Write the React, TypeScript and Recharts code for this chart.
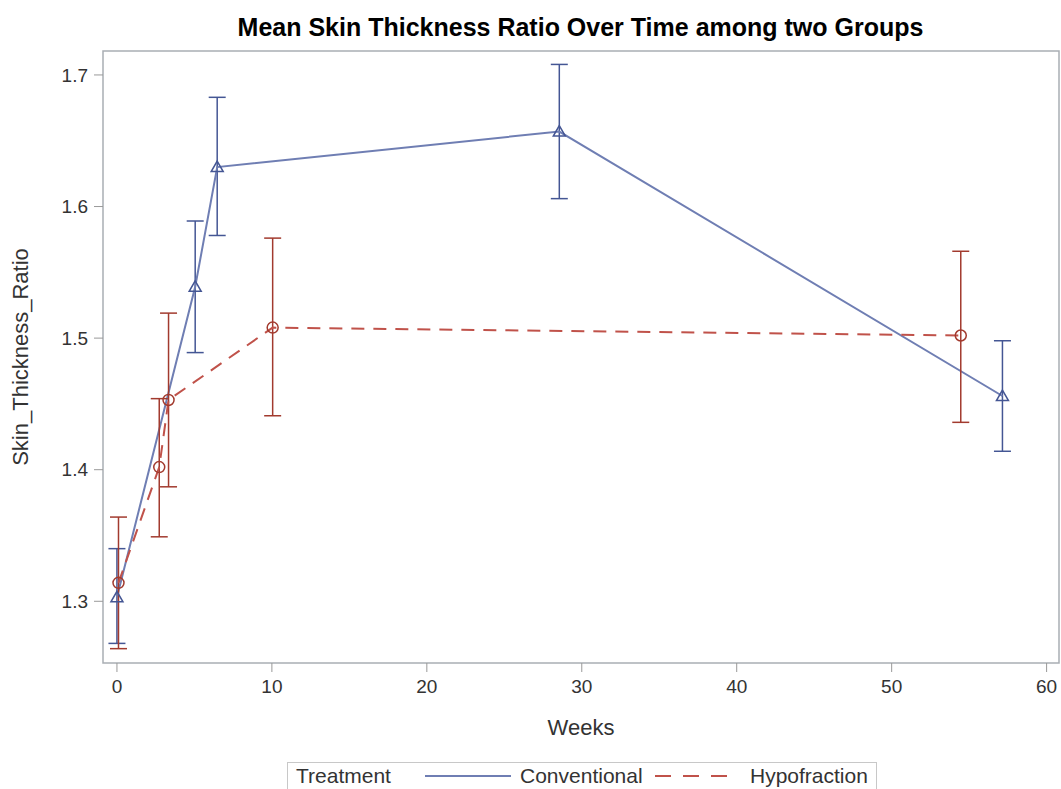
import React from 'react';
import { ComposedChart, Line, XAxis, YAxis, ErrorBar, ReferenceArea, Legend, Label } from 'recharts';

const convWeeks = [0, 5.05, 6.47, 28.55, 57.15];
const convMean = [1.303, 1.539, 1.63, 1.657, 1.456];
const convLower = [1.268, 1.489, 1.578, 1.606, 1.414];
const convUpper = [1.34, 1.589, 1.683, 1.708, 1.498];

const hypoWeeks = [0.1, 2.73, 3.33, 10.05, 54.46];
const hypoMean = [1.314, 1.402, 1.453, 1.508, 1.502];
const hypoLower = [1.264, 1.349, 1.387, 1.441, 1.436];
const hypoUpper = [1.364, 1.454, 1.519, 1.576, 1.566];

const xTicks = [0, 10, 20, 30, 40, 50, 60];
const yTicks = [1.3, 1.4, 1.5, 1.6, 1.7];

const X_DOMAIN = [-0.9, 60.8];
const Y_DOMAIN = [1.2531, 1.7182];

const BLUE = '#445694';
const BLUE_LINE = '#6F7EB3';
const RED = '#A23A2E';
const RED_LINE = '#C0524A';
const FONT = '"Liberation Sans", Arial, sans-serif';

const build = (weeks: number[], mean: number[], lower: number[], upper: number[]) =>
  weeks.map((w, i) => ({ week: w, value: mean[i], err: [mean[i] - lower[i], upper[i] - mean[i]] }));

const convData = build(convWeeks, convMean, convLower, convUpper);
const hypoData = build(hypoWeeks, hypoMean, hypoLower, hypoUpper);

const Triangle = (props: any) => {
  const { cx, cy } = props;
  if (cx == null || cy == null) return null;
  return (
    <path
      d={`M${cx},${cy - 6} L${cx + 6},${cy + 4.5} L${cx - 6},${cy + 4.5} Z`}
      fill="none"
      stroke={BLUE}
      strokeWidth={1.5}
    />
  );
};

const Circle = (props: any) => {
  const { cx, cy } = props;
  if (cx == null || cy == null) return null;
  return <circle cx={cx} cy={cy} r={5.5} fill="none" stroke={RED} strokeWidth={1.5} />;
};

const LegendBox = () => (
  <div
    style={{
      position: 'relative',
      width: 590,
      height: 30,
      border: '1px solid #c8c8c8',
      boxSizing: 'border-box',
      fontFamily: FONT,
      fontSize: 21,
      color: '#333',
      background: '#fff',
    }}
  >
    <span style={{ position: 'absolute', left: 8, top: 0, lineHeight: '25px' }}>Treatment</span>
    <svg style={{ position: 'absolute', left: 137, top: 0 }} width={90} height={26}>
      <line x1={0} y1={13} x2={86} y2={13} stroke={BLUE_LINE} strokeWidth={2} />
    </svg>
    <span style={{ position: 'absolute', left: 232, top: 0, lineHeight: '25px' }}>Conventional</span>
    <svg style={{ position: 'absolute', left: 367, top: 0 }} width={90} height={26}>
      <line x1={0} y1={13} x2={82} y2={13} stroke={RED_LINE} strokeWidth={2} strokeDasharray="16 12" />
    </svg>
    <span style={{ position: 'absolute', left: 462, top: 0, lineHeight: '25px' }}>Hypofraction</span>
  </div>
);

export default function App() {
  return (
    <div style={{ position: 'absolute', left: 0, top: 0, width: 1061, height: 789, background: '#fff', overflow: 'hidden' }}>
      <div
        style={{
          position: 'absolute',
          left: 0,
          width: 1161,
          top: 12,
          textAlign: 'center',
          fontFamily: FONT,
          fontWeight: 'bold',
          fontSize: 25,
          lineHeight: '30px',
          color: '#000',
        }}
      >
        Mean Skin Thickness Ratio Over Time among two Groups
      </div>
      <ComposedChart width={1061} height={789} margin={{ top: 51, right: 2, bottom: 46, left: 0 }}>
        <XAxis
          type="number"
          dataKey="week"
          domain={X_DOMAIN}
          ticks={xTicks}
          allowDataOverflow
          height={80}
          axisLine={false}
          tickSize={9}
          tickMargin={8}
          tickLine={{ stroke: '#999' }}
          tick={{ fill: '#333', fontSize: 19, fontFamily: FONT }}
        >
          <Label
            content={(p: any) => {
              const vb = p.viewBox;
              return (
                <text x={vb.x + vb.width / 2} y={vb.y + 64} textAnchor="middle" dominantBaseline="central" fill="#333" fontSize={22} fontFamily={FONT}>
                  Weeks
                </text>
              );
            }}
          />
        </XAxis>
        <YAxis
          type="number"
          domain={Y_DOMAIN}
          ticks={yTicks}
          allowDataOverflow
          width={103}
          axisLine={false}
          tickSize={9}
          tickMargin={6}
          tickLine={{ stroke: '#999' }}
          tickFormatter={(v: number) => v.toFixed(1)}
          tick={{ fill: '#333', fontSize: 19, fontFamily: FONT }}
        >
          <Label
            content={(p: any) => {
              const vb = p.viewBox;
              const x = vb.x + 20;
              const y = vb.y + vb.height / 2;
              return (
                <text x={x} y={y} transform={`rotate(-90, ${x}, ${y})`} textAnchor="middle" dominantBaseline="central" fill="#333" fontSize={22} fontFamily={FONT}>
                  Skin_Thickness_Ratio
                </text>
              );
            }}
          />
        </YAxis>
        <ReferenceArea x1={X_DOMAIN[0]} x2={X_DOMAIN[1]} y1={Y_DOMAIN[0]} y2={Y_DOMAIN[1]} fill="none" stroke="#a9aeb4" strokeWidth={1.5} ifOverflow="visible" />
        <Line
          data={convData}
          dataKey="value"
          type="linear"
          stroke={BLUE_LINE}
          strokeWidth={2}
          dot={<Triangle />}
          activeDot={false}
          isAnimationActive={false}
        >
          <ErrorBar dataKey="err" direction="y" width={8.5} stroke={BLUE} strokeWidth={1.5} />
        </Line>
        <Line
          data={hypoData}
          dataKey="value"
          type="linear"
          stroke={RED_LINE}
          strokeWidth={2}
          strokeDasharray="13 9"
          dot={<Circle />}
          activeDot={false}
          isAnimationActive={false}
        >
          <ErrorBar dataKey="err" direction="y" width={8.5} stroke={RED} strokeWidth={1.5} />
        </Line>
        <Legend
          layout="vertical"
          align="center"
          verticalAlign="middle"
          wrapperStyle={{ left: 287, top: 762, width: 590, height: 30 }}
          content={() => <LegendBox />}
        />
      </ComposedChart>
    </div>
  );
}
